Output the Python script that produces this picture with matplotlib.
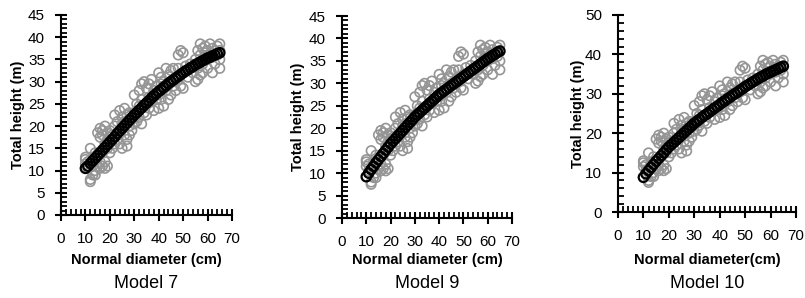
import matplotlib.pyplot as plt
from matplotlib.ticker import MultipleLocator

plt.rcParams['font.family'] = ['Liberation Sans', 'DejaVu Sans']

# observed trees (normal diameter cm, total height m)
obs_d = [10, 10, 10, 11, 11, 12, 12, 12, 13, 13, 13, 14, 14, 14, 15, 15, 15,
         16, 16, 16, 16, 17, 17, 17, 17, 18, 18, 18, 18, 19, 19, 19, 19,
         20, 20, 20, 21, 21, 22, 22, 22, 23, 23, 24, 24, 24, 25, 25, 25,
         26, 26, 26, 27, 27, 27, 28, 28, 28, 29, 29, 30, 30, 30, 31, 31,
         32, 32, 32, 33, 33, 33, 34, 34, 35, 35, 35, 36, 36, 36, 37, 37,
         38, 38, 39, 39, 40, 40, 40, 41, 41, 41, 42, 42, 43, 43, 44, 44,
         45, 45, 45, 46, 46, 47, 47, 48, 48, 48, 49, 49, 50, 50, 50, 51,
         52, 53, 54, 55, 55, 56, 56, 56, 57, 57, 57, 58, 58, 58, 59, 59,
         60, 60, 60, 61, 61, 62, 62, 62, 63, 63, 64, 64, 65, 65, 65, 65]
obs_h = [11.5, 12.5, 13, 10.5, 12, 15, 7.5, 8, 9, 11, 12.5, 14, 10, 9, 18.5, 11, 13,
         19.5, 17.5, 12, 10.5, 18, 19, 14, 11, 20, 16, 12, 10.5, 18.5, 17, 15, 11,
         19, 17.5, 14, 15, 18, 22.5, 16, 20, 21, 17, 23.5, 16, 19, 22, 15, 20.5,
         24, 18, 21, 22.5, 17, 15.5, 20, 23, 18, 19, 21.5, 27, 23, 20.5, 25, 21,
         28, 22, 24.5, 29.5, 20.5, 26, 30, 23, 28.5, 25, 22.5, 29.5, 26.5, 24, 30.5, 25.5,
         28, 23.5, 26, 29, 32, 24, 27, 31, 26, 29.5, 30, 24.5, 33, 28, 31.5, 26,
         30, 27, 32.5, 33, 29, 31, 28, 36, 30.5, 33, 37, 29, 36.5, 32, 28.5, 33.5,
         31, 34, 32, 30, 35, 37, 33, 30.5, 38.5, 36, 31.5, 37.5, 34, 32, 38, 36.5,
         37, 35, 33, 38.5, 36, 32, 35.5, 37.5, 37, 34, 38, 36, 38.5, 37, 35, 33]

# predicted heights for each model
pred_d = list(range(10, 66))
pred_m7 = [10.5, 11.0, 11.6, 12.2, 12.8, 13.4, 14.0, 14.6, 15.2, 15.8, 16.4, 17.0,
           17.6, 18.3, 18.9, 19.5, 20.1, 20.7, 21.3, 21.9, 22.5, 23.0, 23.6, 24.1,
           24.7, 25.2, 25.7, 26.3, 26.8, 27.3, 27.8, 28.2, 28.7, 29.1, 29.6, 30.0,
           30.4, 30.8, 31.2, 31.6, 32.0, 32.4, 32.7, 33.1, 33.4, 33.8, 34.1, 34.4,
           34.7, 35.0, 35.3, 35.5, 35.8, 36.0, 36.3, 36.5]
pred_m9 = [9.2, 10.0, 10.8, 11.5, 12.3, 13.0, 13.7, 14.4, 15.1, 15.8, 16.5, 17.1,
           17.7, 18.3, 18.9, 19.5, 20.1, 20.7, 21.3, 21.9, 22.5, 23.0, 23.5, 24.0,
           24.5, 25.0, 25.5, 26.0, 26.5, 27.0, 27.5, 27.9, 28.3, 28.7, 29.1, 29.5,
           29.9, 30.3, 30.7, 31.1, 31.5, 31.9, 32.3, 32.7, 33.1, 33.5, 33.9, 34.3,
           34.7, 35.1, 35.5, 35.8, 36.2, 36.5, 36.9, 37.2]
pred_m10 = [8.8, 9.7, 10.5, 11.3, 12.1, 12.9, 13.6, 14.3, 15.0, 15.8, 16.5, 17.1,
            17.7, 18.3, 18.9, 19.5, 20.1, 20.7, 21.3, 21.9, 22.5, 23.0, 23.5, 24.0,
            24.5, 24.9, 25.4, 25.9, 26.4, 26.8, 27.3, 27.8, 28.2, 28.7, 29.1, 29.6,
            30.0, 30.4, 30.9, 31.3, 31.8, 32.2, 32.6, 33.0, 33.4, 33.8, 34.2, 34.5,
            34.9, 35.2, 35.5, 35.8, 36.1, 36.4, 36.7, 37.0]

W, H = 805, 298
fig = plt.figure(figsize=(W / 100, H / 100), dpi=100)

# axes box in pixels (left, right, top, bottom), ylabel x, ymax, steps, texts
panels = [
    ((61, 232, 15, 215), 18, 45, 5, 1, pred_m7, 'Normal diameter (cm)', 'Model 7'),
    ((342, 512, 16, 218), 298, 45, 5, 1, pred_m9, 'Normal diameter (cm)', 'Model 9'),
    ((618, 796, 15, 212), 578, 50, 10, 2, pred_m10, 'Normal diameter(cm)', 'Model 10'),
]

for (l, r, t, b), ylx, ymax, ystep, yminor, pred, xlab, title in panels:
    ax = fig.add_axes([l / W, (H - b) / H, (r - l) / W, (b - t) / H])
    ax.scatter(obs_d, obs_h, s=46, facecolors='none', edgecolors='#959595',
               linewidths=1.2, zorder=2, clip_on=False)
    ax.scatter(pred_d, pred, s=46, facecolors='none', edgecolors='black',
               linewidths=1.6, zorder=3, clip_on=False)
    ax.set_xlim(0, 70)
    ax.set_ylim(0, ymax)
    ax.xaxis.set_major_locator(MultipleLocator(10))
    ax.xaxis.set_minor_locator(MultipleLocator(2))
    ax.yaxis.set_major_locator(MultipleLocator(ystep))
    ax.yaxis.set_minor_locator(MultipleLocator(yminor))
    for s in ['top', 'right']:
        ax.spines[s].set_visible(False)
    for s in ['left', 'bottom']:
        ax.spines[s].set_linewidth(1.5)
    ax.tick_params(which='major', direction='inout', length=9, width=1.5,
                   labelsize=11, pad=7)
    ax.tick_params(which='minor', direction='in', length=4, width=1.3)
    ax.tick_params(axis='x', which='major', pad=8)
    ax.set_xlabel(xlab, fontsize=10.5, fontweight='bold', va='center')
    ax.set_ylabel('Total height (m)', fontsize=10.5, fontweight='bold', va='center')
    ax.xaxis.set_label_coords(0.5, 1 - (260 - t) / (b - t))
    ax.yaxis.set_label_coords((ylx - l) / (r - l), 0.5)
    ax.text(0.5, 1 - (283 - t) / (b - t), title, transform=ax.transAxes,
            ha='center', va='center', fontsize=13)

fig.savefig('out.png', dpi=100)
